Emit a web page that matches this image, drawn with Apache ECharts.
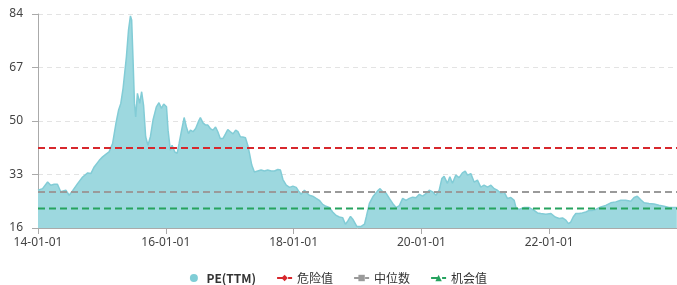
<!DOCTYPE html>
<html>
<head>
<meta charset="utf-8">
<script src="https://cdn.jsdelivr.net/npm/echarts@6/dist/echarts.min.js"></script>
<style>
    html, body { margin: 0; padding: 0; background: #fff; }
    #peChart { width: 677px; height: 285px; }
</style>
</head>
<body>
<div id="peChart"></div>
<script>
// 日期
const dates = [
    '2014-01-01', '2014-01-27', '2014-02-25', '2014-03-15', '2014-04-03', '2014-04-22', '2014-05-11', '2014-06-09',
    '2014-06-28', '2014-07-17', '2014-08-15', '2014-09-13', '2014-10-12', '2014-10-30', '2014-11-18', '2014-12-17',
    '2015-01-05', '2015-01-23', '2015-02-11', '2015-03-03', '2015-03-22', '2015-04-06', '2015-04-19', '2015-05-02',
    '2015-05-13', '2015-05-21', '2015-06-02', '2015-06-13', '2015-06-20', '2015-06-28', '2015-07-06', '2015-07-13',
    '2015-07-23', '2015-08-05', '2015-08-16', '2015-08-27', '2015-09-08', '2015-09-21', '2015-10-05', '2015-10-20',
    '2015-11-08', '2015-11-23', '2015-12-07', '2015-12-20', '2016-01-05', '2016-01-14', '2016-01-27', '2016-02-06',
    '2016-02-21', '2016-03-06', '2016-03-17', '2016-03-31', '2016-04-15', '2016-04-28', '2016-05-10', '2016-05-21',
    '2016-06-05', '2016-06-20', '2016-07-05', '2016-07-17', '2016-08-01', '2016-08-16', '2016-08-29', '2016-09-12',
    '2016-09-27', '2016-10-12', '2016-10-25', '2016-11-08', '2016-11-23', '2016-12-08', '2016-12-21', '2017-01-05',
    '2017-01-20', '2017-02-04', '2017-02-17', '2017-03-03', '2017-03-17', '2017-04-01', '2017-04-14', '2017-04-24',
    '2017-05-07', '2017-05-22', '2017-06-10', '2017-06-29', '2017-07-18', '2017-08-06', '2017-08-26', '2017-09-14',
    '2017-10-03', '2017-10-18', '2017-11-01', '2017-11-20', '2017-12-09', '2017-12-28', '2018-01-16', '2018-01-29',
    '2018-02-13', '2018-03-04', '2018-03-19', '2018-04-01', '2018-04-20', '2018-05-10', '2018-05-28', '2018-06-16',
    '2018-07-05', '2018-07-24', '2018-08-12', '2018-09-01', '2018-09-19', '2018-10-08', '2018-10-24', '2018-11-06',
    '2018-11-22', '2018-12-05', '2018-12-28', '2019-01-22', '2019-02-10', '2019-02-20', '2019-03-10', '2019-04-01',
    '2019-04-26', '2019-05-10', '2019-05-25', '2019-06-13', '2019-07-02', '2019-07-21', '2019-08-09', '2019-08-28',
    '2019-09-16', '2019-10-05', '2019-10-24', '2019-11-12', '2019-12-01', '2019-12-20', '2020-01-08', '2020-01-27',
    '2020-02-15', '2020-03-05', '2020-03-24', '2020-04-12', '2020-04-27', '2020-05-10', '2020-05-29', '2020-06-12',
    '2020-06-27', '2020-07-16', '2020-08-04', '2020-08-23', '2020-09-08', '2020-09-21', '2020-10-10', '2020-10-29',
    '2020-11-17', '2020-12-06', '2020-12-25', '2021-01-14', '2021-02-02', '2021-02-21', '2021-03-11', '2021-03-31',
    '2021-04-19', '2021-05-07', '2021-05-27', '2021-06-15', '2021-06-25', '2021-07-13', '2021-08-11', '2021-09-09',
    '2021-10-07', '2021-10-26', '2021-11-14', '2021-12-13', '2022-01-11', '2022-02-04', '2022-02-27', '2022-03-18',
    '2022-04-06', '2022-04-21', '2022-05-04', '2022-05-18', '2022-06-02', '2022-06-21', '2022-07-09', '2022-07-29',
    '2022-08-17', '2022-09-05', '2022-09-24', '2022-10-23', '2022-11-20', '2022-12-19', '2023-01-16', '2023-02-14',
    '2023-03-14', '2023-04-12', '2023-05-01', '2023-05-19', '2023-06-08', '2023-06-27', '2023-07-25', '2023-08-23',
    '2023-09-20', '2023-10-19', '2023-11-16', '2023-12-14', '2023-12-31'
];

// PE(TTM)
const peValues = [
    28.0, 28.5, 30.6, 29.6, 29.9, 29.9, 27.5, 28.0,
    26.4, 27.8, 30.1, 32.2, 33.5, 33.3, 35.4, 37.5,
    38.6, 39.4, 40.2, 42.8, 49.2, 53.4, 55.6, 60.4,
    60.9, 70.4, 78.9, 83.4, 82.1, 69.4, 55.6, 51.3,
    58.8, 55.6, 59.3, 55.0, 45.0, 42.3, 45.0, 50.3,
    54.5, 55.8, 54.0, 55.4, 54.5, 47.1, 40.7, 42.3,
    40.2, 39.7, 42.8, 46.9, 51.1, 48.1, 46.0, 47.1,
    46.6, 47.6, 49.7, 51.1, 49.4, 48.7, 48.7, 47.6,
    47.1, 48.1, 46.6, 44.4, 44.4, 45.9, 47.3, 46.6,
    45.9, 47.1, 46.6, 45.0, 44.9, 44.7, 42.3, 39.7,
    36.0, 33.8, 34.1, 34.4, 34.1, 34.4, 34.1, 34.1,
    34.6, 34.4, 31.4, 29.6, 28.9, 29.3, 28.9, 27.8,
    26.7, 28.0, 27.1, 26.4, 26.1, 25.4, 24.8, 23.5,
    22.9, 22.5, 21.1, 20.0, 19.5, 19.3, 17.2, 18.2,
    19.7, 18.8, 16.5, 16.5, 17.2, 19.5, 23.8, 26.1,
    27.8, 28.5, 27.5, 27.1, 25.4, 23.8, 22.5, 23.1,
    25.4, 24.8, 25.4, 25.8, 25.6, 26.7, 26.1, 26.9,
    28.0, 27.5, 26.4, 28.0, 31.7, 32.4, 30.2, 32.3,
    30.2, 32.8, 32.0, 33.5, 34.1, 32.8, 33.3, 30.6,
    31.2, 29.0, 29.6, 29.0, 29.6, 28.5, 28.0, 27.1,
    27.4, 25.4, 25.7, 24.8, 22.5, 21.9, 22.5, 22.5,
    21.6, 20.8, 20.6, 20.4, 20.6, 19.5, 19.0, 19.2,
    18.5, 17.4, 17.9, 19.5, 20.6, 20.6, 20.8, 21.1,
    21.6, 21.6, 21.9, 22.7, 23.2, 24.0, 24.3, 24.8,
    24.8, 24.5, 25.7, 26.1, 25.0, 24.0, 23.8, 23.6,
    23.2, 22.9, 22.5, 22.5, 22.5
];

// 危险值 / 中位数 / 机会值
const dangerValue = 41.45;
const medianValue = 27.45;
const chanceValue = 22.2;

// 坐标轴范围
const yearStart = 2014;
const yearEnd = 2024;
const yTicks = [16, 33, 50, 67, 84];

// 日期 -> 小数年份
const toYear = (s) => {
    const d = Date.parse(s + 'T00:00:00Z');
    const y = Number(s.slice(0, 4));
    const start = Date.UTC(y, 0, 1);
    const end = Date.UTC(y + 1, 0, 1);
    return y + (d - start) / (end - start);
};

const peData = dates.map((d, i) => [toYear(d), peValues[i]]);
const flatLine = (v) => [[yearStart, v], [yearEnd, v]];

const dashLine = (name, color, symbol, value) => ({
    name: name,
    type: 'line',
    symbol: symbol,
    showSymbol: false,
    symbolSize: 8,
    silent: true,
    itemStyle: { color: color },
    lineStyle: { color: color, width: 2, type: [7, 4] },
    data: flatLine(value),
    z: 3
});

const options = {
    animation: false,
    grid: {
        top: 14,
        left: 38,
        right: 0,
        bottom: 57
    },
    legend: {
        top: 267,
        left: 'center',
        itemWidth: 15,
        itemHeight: 8,
        itemGap: 20,
        textStyle: {
            color: '#333',
            fontSize: 12,
            fontFamily: '"Noto Sans CJK SC", sans-serif',
            rich: {
                b: { fontWeight: 'bold', fontSize: 12, color: '#333', fontFamily: '"Noto Sans CJK SC", sans-serif' }
            }
        },
        formatter: (name) => (name === 'PE(TTM)' ? '{b|' + name + '}' : name),
        data: [{ name: 'PE(TTM)', icon: 'circle' }, '危险值', '中位数', '机会值']
    },
    xAxis: {
        type: 'value',
        min: yearStart,
        max: yearEnd,
        interval: 2,
        axisLine: { lineStyle: { color: '#aaa', width: 1 } },
        axisTick: { show: true, length: 6, lineStyle: { color: '#aaa' } },
        splitLine: { show: false },
        axisLabel: {
            color: '#444',
            fontSize: 12,
            margin: 9,
            showMaxLabel: false,
            fontFamily: '"Noto Sans", sans-serif',
            formatter: (v) => String(v).slice(2) + '-01-01'
        }
    },
    yAxis: {
        type: 'value',
        min: yTicks[0],
        max: yTicks[yTicks.length - 1],
        interval: yTicks[1] - yTicks[0],
        axisLine: { show: true, lineStyle: { color: '#aaa', width: 1 } },
        axisTick: { show: true, length: 6, lineStyle: { color: '#aaa' } },
        axisLabel: {
            color: '#444',
            fontSize: 12,
            margin: 15,
            fontFamily: '"Noto Sans", sans-serif'
        },
        splitLine: {
            lineStyle: { type: [5, 4], width: 1, color: '#e3e3e3' }
        }
    },
    series: [
        {
            name: 'PE(TTM)',
            type: 'line',
            symbol: 'none',
            itemStyle: { color: '#7fcdd6' },
            lineStyle: { color: '#82ccd6', width: 1.5 },
            areaStyle: { color: '#9dd8df', opacity: 1 },
            data: peData,
            z: 2
        },
        dashLine('危险值', '#d7282d', 'diamond', dangerValue),
        dashLine('中位数', '#9a9a9a', 'rect', medianValue),
        dashLine('机会值', '#26a35f', 'triangle', chanceValue)
    ]
};

const chartLine = echarts.init(document.getElementById('peChart'));
chartLine.setOption(options);
</script>
</body>
</html>
